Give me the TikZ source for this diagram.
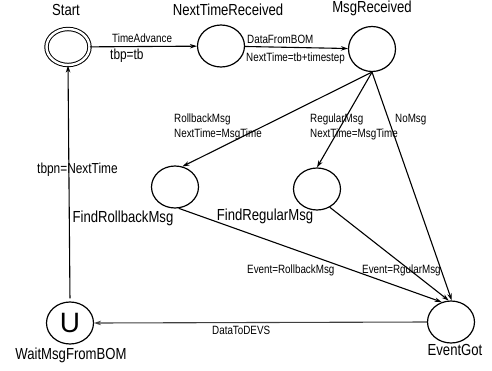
\documentclass[tikz,border=0pt]{standalone}
\usepackage{fontspec}
\setmainfont{Liberation Sans}
\newfontfamily\narrowfont[FakeStretch=0.82]{Liberation Sans}
\usetikzlibrary{shapes.geometric,arrows.meta}

\tikzset{
  state/.style={draw, ellipse, line width=1.2pt, minimum width=47pt, minimum height=42pt, inner sep=0pt},
  startstate/.style={state, double, double distance=2.4pt, line width=1pt, minimum width=43pt, minimum height=36pt},
  statename/.style={inner sep=0pt, font=\narrowfont\fontsize{16}{18}\selectfont},
  edgelabel/.style={inner sep=0pt, anchor=west, font=\narrowfont\fontsize{12}{14}\selectfont},
  assignlabel/.style={inner sep=0pt, anchor=west, font=\narrowfont\fontsize{14.5}{16}\selectfont},
  trans/.style={line width=1.1pt, -{Stealth[length=7pt,width=4.5pt]}},
}

\begin{document}
\begin{tikzpicture}[x=1pt, y=-1pt]
\useasboundingbox (0,0) rectangle (492,370);

% states
\node[startstate] (st) at (68,47) {};
\node[state] (nt) at (221,46) {};
\node[state, minimum height=45pt] (ms) at (372,49) {};
\node[state] (fr) at (175,187) {};
\node[state] (fg) at (317,189) {};
\node[state] (wm) at (70,323) {\fontsize{28}{30}\selectfont U};
\node[state] (eg) at (451,322) {};

% state names
\node[statename] (lst) at (66,10) {Start};
\node[statename] (lnt) at (228,10) {NextTimeReceived};
\node[statename] (lms) at (372,8) {MsgReceived};
\node[statename] (lfr) at (123,218) {FindRollbackMsg};
\node[statename] (lfg) at (265,216) {FindRegularMsg};
\node[statename] (lwm) at (71,355) {WaitMsgFromBOM};
\node[statename] (leg) at (455,350) {EventGot};

% transitions
\draw[trans] (st) -- (nt);
\draw[trans] (nt) -- (ms);
\draw[trans] (ms.south) -- (fr.70);
\draw[trans] (ms.south) -- (fg.north);
\draw[trans] (ms.south) -- (eg.88);
\draw[trans] (fr.-80) -- (eg.115);
\draw[trans] (fg.-55) -- (eg.96);
\draw[trans, draw=black!75] (eg.west) -- (wm.east);
\draw[trans, shorten <=3pt] (wm.north) -- (st.south);

% transition labels
\node[edgelabel] (l1) at (112,38) {TimeAdvance};
\node[assignlabel] (l2) at (110,56) {tbp=tb};
\node[edgelabel] (l3) at (247,39) {DataFromBOM};
\node[edgelabel] (l4) at (246,58) {NextTime=tb+timestep};
\node[edgelabel] (l5) at (174,119) {RollbackMsg};
\node[edgelabel] (l6) at (174,134) {NextTime=MsgTime};
\node[edgelabel] (l7) at (310,119) {RegularMsg};
\node[edgelabel] (l8) at (310,134) {NextTime=MsgTime};
\node[edgelabel] (l9) at (395,120) {NoMsg};
\node[assignlabel] (l10) at (37,170) {tbpn=NextTime};
\node[edgelabel] (l11) at (247,270) {Event=RollbackMsg};
\node[edgelabel] (l12) at (362,270) {Event=RgularMsg};
\node[edgelabel] (l13) at (212,330) {DataToDEVS};
\end{tikzpicture}
\end{document}
